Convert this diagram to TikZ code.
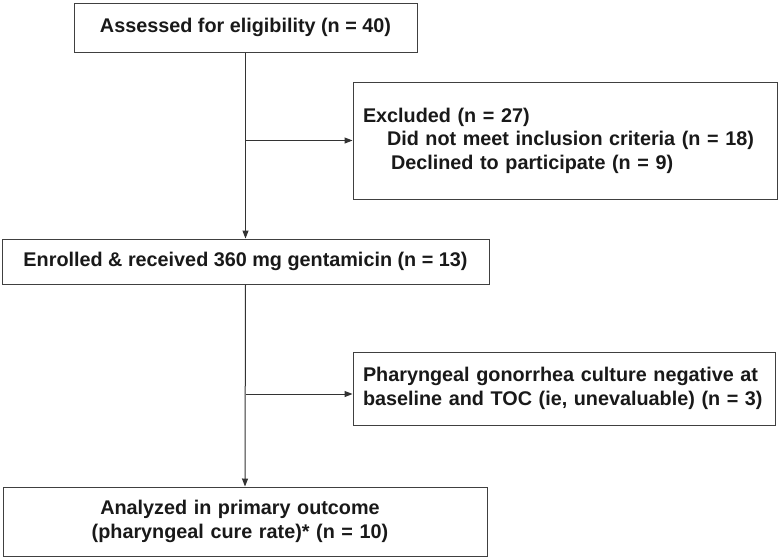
\documentclass[tikz,border=0pt]{standalone}
\usepackage{fontspec}
\setmainfont{Liberation Sans}
\usetikzlibrary{arrows.meta}
\begin{document}
\begin{tikzpicture}[x=1pt,y=-1pt,
  box/.style={draw=black!75, line width=1pt, fill=white, inner sep=0pt,
    font=\fontsize{19.8}{23.5}\selectfont\bfseries, text=black!90},
  lbox/.style={box, inner xsep=10pt, align=left},
  arr/.style={draw=black!80, line width=1pt, -{Triangle[length=8pt,width=6pt]}}]
\useasboundingbox[fill=white] (0,0) rectangle (780,560);
\node[box, minimum width=343pt, minimum height=49pt] (b1) at (245.5,27.5) {Assessed for eligibility (n = 40)};
\node[lbox, text width=404pt, minimum height=117pt] (ex) at (565,140.5)
  {Excluded (n = 27)\\
   \hspace*{24pt}Did not meet inclusion criteria (n = 18)\\
   \hspace*{28pt}Declined to participate (n = 9)};
\node[box, minimum width=487pt, minimum height=45pt] (b2) at (245.5,261.5) {Enrolled \& received 360 mg gentamicin (n = 13)};
\node[lbox, text width=402pt, minimum height=73pt] (ph) at (564,388.5)
  {Pharyngeal gonorrhea culture negative at\\
   baseline and TOC (ie, unevaluable) (n = 3)};
\node[box, minimum width=484pt, minimum height=69pt, text width=484pt, align=center] (b4) at (245,521.5)
  {\hspace*{-10pt}Analyzed in primary outcome\\\hspace*{-10pt}(pharyngeal cure rate)* (n = 10)};
\draw[arr] (b1.south) -- (b2.north);
\draw[arr] (b1.south |- ex.west) -- (ex.west);
\draw[arr] (b2.south) -- (b4.north);
\draw[arr] ([yshift=-5.5pt]ph.west -| b2.south) -- ([yshift=-5.5pt]ph.west);
\end{tikzpicture}
\end{document}
